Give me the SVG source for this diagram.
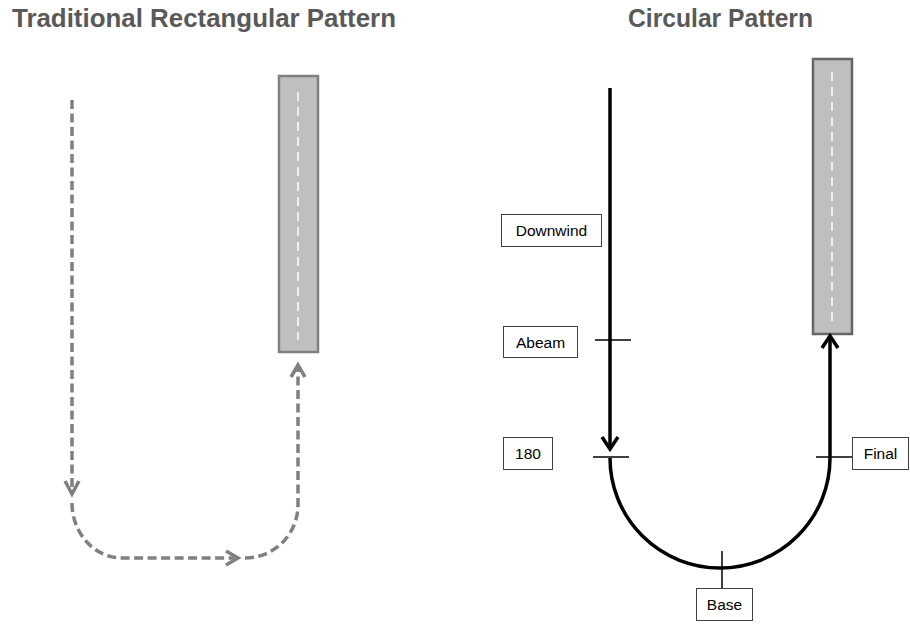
<svg xmlns="http://www.w3.org/2000/svg" width="910" height="624" viewBox="0 0 910 624">
<style>
.title{font-family:"Liberation Sans",Arial,sans-serif;font-weight:bold;font-size:25px;fill:#595959}
.lbl{font-family:"Liberation Sans",Arial,sans-serif;font-size:15.5px;fill:#000}
.box{fill:#fff;stroke:#404040;stroke-width:1}
.rwy{fill:#bfbfbf;stroke-width:2.5}
.cl{stroke:#fff;stroke-width:1.5;stroke-dasharray:9,6;fill:none}
.dash{fill:none;stroke:#808080;stroke-width:3.5;stroke-dasharray:9,4.5}
.dhead{fill:none;stroke:#808080;stroke-width:3.5;stroke-linejoin:miter;stroke-linecap:butt}
.solid{fill:none;stroke:#000;stroke-width:3.5}
.tick{fill:none;stroke:#000;stroke-width:1.5}
</style>
<text class="title" x="12" y="27" textLength="384" lengthAdjust="spacingAndGlyphs">Traditional Rectangular Pattern</text>
<text class="title" x="628" y="27" textLength="185" lengthAdjust="spacingAndGlyphs">Circular Pattern</text>

<g id="runway-left">
<rect class="rwy" x="279" y="76" width="39" height="276" stroke="#808080"/>
<line class="cl" x1="298" y1="92" x2="298" y2="340"/>
</g>
<g id="runway-right">
<rect class="rwy" x="813" y="59" width="39" height="275" stroke="#666"/>
<line class="cl" x1="832" y1="72" x2="832" y2="323"/>
</g>

<g id="connectors">
<path class="dash" d="M72,100 V492"/>
<path class="dhead" d="M65,481 L72,494 L79,481"/>
<path class="dash" d="M72,503 A50,55 0 0 0 122,558 H234"/>
<path class="dhead" d="M226,551 L238,558 L226,565"/>
<path class="dash" d="M245,558 A53,53 0 0 0 298,505 V368"/>
<path class="dhead" d="M291,377 L298,365 L305,377"/>

<path class="solid" d="M610,88 V446"/>
<path class="solid" d="M602,437 L610,449 L618,437"/>
<path class="solid" d="M610,458 A110,110 0 0 0 830,458 V337"/>
<path class="solid" d="M822,348 L830,336 L838,348"/>
<line class="tick" x1="595" y1="340" x2="631" y2="340"/>
<line class="tick" x1="593" y1="457" x2="629" y2="457"/>
<line class="tick" x1="816" y1="457" x2="852" y2="457"/>
<line class="tick" x1="722" y1="551" x2="722" y2="588"/>
</g>

<g id="downwind"><rect class="box" x="501.5" y="214.5" width="100" height="32"/><text class="lbl" x="551.5" y="236" text-anchor="middle">Downwind</text></g>
<g id="abeam"><rect class="box" x="503.5" y="326.5" width="74" height="31"/><text class="lbl" x="540.5" y="347.5" text-anchor="middle">Abeam</text></g>
<g id="n180"><rect class="box" x="503.5" y="437.5" width="49" height="32"/><text class="lbl" x="528" y="459" text-anchor="middle">180</text></g>
<g id="final"><rect class="box" x="852.5" y="437.5" width="56" height="32"/><text class="lbl" x="880.5" y="459" text-anchor="middle">Final</text></g>
<g id="base"><rect class="box" x="696.5" y="588.5" width="56" height="32"/><text class="lbl" x="724.5" y="610" text-anchor="middle">Base</text></g>
</svg>
